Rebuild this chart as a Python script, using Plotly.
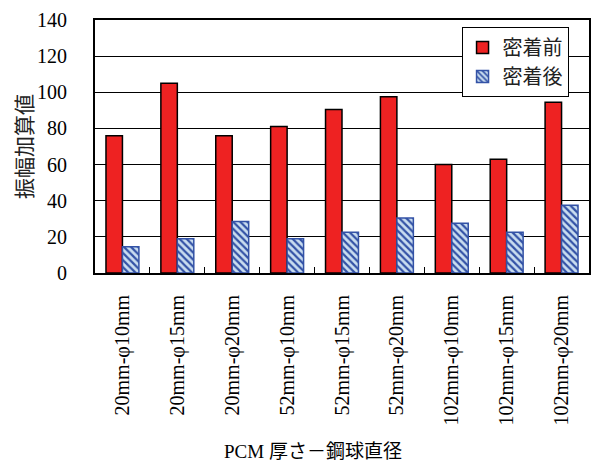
import plotly.graph_objects as go

# Test conditions: PCM thickness - steel ball diameter
categories = [
    "20mm-φ10mm", "20mm-φ15mm", "20mm-φ20mm",
    "52mm-φ10mm", "52mm-φ15mm", "52mm-φ20mm",
    "102mm-φ10mm", "102mm-φ15mm", "102mm-φ20mm",
]
# Summed amplitude before / after adhesion
before_values = [76, 105, 76, 81, 90.5, 97.5, 60, 63, 94.5]
after_values = [14.5, 19, 28.5, 19, 22.5, 30.5, 27.5, 22.5, 37.5]
series_names = ["密着前", "密着後"]
y_ticks = [0, 20, 40, 60, 80, 100, 120, 140]

serif = "Liberation Serif"
cjk = "Noto Sans CJK JP"

fig = go.Figure()
fig.add_trace(go.Bar(
    name=series_names[0], x=categories, y=before_values,
    marker=dict(color="#EE2222", line=dict(color="black", width=1.5)),
))
fig.add_trace(go.Bar(
    name=series_names[1], x=categories, y=after_values,
    marker=dict(
        color="#C9DDF0",
        line=dict(color="#3352A6", width=1.5),
        pattern=dict(shape="\\", fgcolor="#3352A6", bgcolor="#C9DDF0",
                     size=5, solidity=0.45, fillmode="replace"),
    ),
))

fig.update_layout(
    width=592, height=465,
    margin=dict(l=95, r=1, t=20, b=192),
    paper_bgcolor="white", plot_bgcolor="white",
    barmode="group", bargap=0.4, bargroupgap=0,
    font=dict(family=serif, size=20, color="black"),
    showlegend=True,
    legend=dict(
        x=0.742, y=0.972, xanchor="left", yanchor="top",
        bgcolor="white", bordercolor="black", borderwidth=1,
        font=dict(family=cjk, size=20, color="#222"),
        tracegroupgap=0, itemwidth=30,
    ),
    xaxis=dict(
        type="category", tickangle=-90,
        tickfont=dict(family=serif, size=20, color="black"),
        ticks="inside", ticklen=6, tickwidth=1, tickcolor="black",
        tickson="boundaries", showgrid=False,
        showline=True, linecolor="black", linewidth=2, mirror=True,
        ticklabelstandoff=12,
    ),
    yaxis=dict(
        range=[0, 140], tickvals=y_ticks,
        tickfont=dict(family=serif, size=20, color="black"),
        showgrid=True, gridcolor="black", gridwidth=1,
        showline=True, linecolor="black", linewidth=2, mirror=True,
        ticks="", ticklabelstandoff=22, zeroline=False,
    ),
)

fig.add_annotation(
    text="振幅加算値", textangle=-90, showarrow=False,
    xref="paper", yref="paper", x=-0.147, y=0.5,
    xanchor="center", yanchor="middle",
    font=dict(family=cjk, size=21, color="#222"),
)
fig.add_annotation(
    text="PCM 厚さ－鋼球直径", showarrow=False,
    xref="paper", yref="paper", x=0.4415, y=-0.7075,
    xanchor="center", yanchor="middle",
    font=dict(family="Liberation Serif, Noto Sans CJK JP", size=19, color="black"),
)

fig.write_html("out.html")
